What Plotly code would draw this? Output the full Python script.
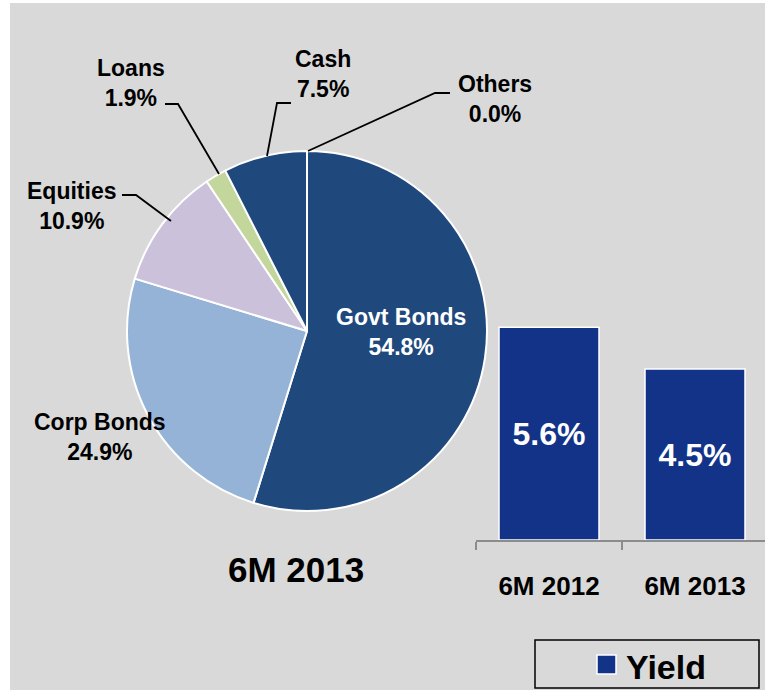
import plotly.graph_objects as go

# Portfolio mix (6M 2013), clockwise from 12 o'clock
asset_labels = ["Govt Bonds", "Corp Bonds", "Equities", "Loans", "Cash", "Others"]
asset_shares = [54.8, 24.9, 10.9, 1.9, 7.5, 0.0]
asset_colors = ["#1f497d", "#95b3d7", "#ccc1da", "#c3d69b", "#1f497d", "#1f497d"]

# Yield by period
periods = ["6M 2012", "6M 2013"]
yields = [5.6, 4.5]

pie_title = "6M 2013"
legend_name = "Yield"

W, H = 765, 690
FONT = "Liberation Sans, Arial, sans-serif"
BAR_BLUE = "#133388"
BG = "#d9d9d9"


def px(x):
    return x / W


def py(y):
    return 1 - y / H


fig = go.Figure()

# pie of asset allocation
cx, cy, r = 307, 331, 180
fig.add_trace(go.Pie(
    labels=asset_labels,
    values=asset_shares,
    sort=False,
    direction="clockwise",
    rotation=0,
    marker=dict(colors=asset_colors, line=dict(color="white", width=2)),
    textinfo="none",
    showlegend=False,
    domain=dict(x=[px(cx - r), px(cx + r)], y=[py(cy + r), py(cy - r)]),
))

# yield bars
fig.add_trace(go.Bar(
    x=periods,
    y=yields,
    name=legend_name,
    width=0.685,
    marker=dict(color=BAR_BLUE, line=dict(color="white", width=1.5)),
    texttemplate="%{y:.1f}%",
    textposition="inside",
    insidetextanchor="middle",
    textangle=0,
    textfont=dict(family=FONT, size=32, color="white", weight="bold"),
    showlegend=False,
    xaxis="x", yaxis="y",
))

# slice labels: (centre x, centre y, text colour)
label_pos = {
    "Govt Bonds": (401, 332, "white"),
    "Corp Bonds": (100, 437, "black"),
    "Equities": (71, 206, "black"),
    "Loans": (131, 83, "black"),
    "Cash": (323, 74, "black"),
    "Others": (495, 99, "black"),
}
annotations = []
for lab, val in zip(asset_labels, asset_shares):
    x, y, col = label_pos[lab]
    annotations.append(dict(
        x=px(x), y=py(y), xref="paper", yref="paper",
        text=f"<b>{lab}<br>{val:.1f}%</b>", showarrow=False,
        xanchor="center", yanchor="middle", align="center",
        font=dict(family=FONT, size=23, color=col),
    ))

annotations.append(dict(
    x=px(296), y=py(569), xref="paper", yref="paper",
    text=f"<b>{pie_title}</b>", showarrow=False,
    xanchor="center", yanchor="middle",
    font=dict(family=FONT, size=35, color="black"),
))

# legend text
annotations.append(dict(
    x=px(624), y=py(667), xref="paper", yref="paper",
    text=f"<b>{legend_name}</b>", showarrow=False,
    xanchor="left", yanchor="middle",
    font=dict(family=FONT, size=34, color="black"),
))


def path(points):
    return "M " + " L ".join(f"{px(x)},{py(y)}" for x, y in points)


leader_lines = [
    [(165, 104), (178, 104), (219, 174)],   # Loans
    [(291, 103), (277, 103), (267, 156)],   # Cash
    [(450, 93), (435, 93), (308, 151)],     # Others
    [(122, 195), (136, 195), (171, 221)],   # Equities
]

shapes = [
    # grey panel
    dict(type="rect", xref="paper", yref="paper", x0=px(10), x1=1.01, y0=-0.01, y1=py(3),
         fillcolor=BG, line=dict(width=0), layer="below"),
    # legend box
    dict(type="rect", xref="paper", yref="paper", x0=px(535), x1=px(759), y0=py(688), y1=py(640),
         fillcolor="rgba(0,0,0,0)", line=dict(color="black", width=1.5)),
    # legend swatch
    dict(type="rect", xref="paper", yref="paper", x0=px(597), x1=px(616), y0=py(674), y1=py(655),
         fillcolor=BAR_BLUE, line=dict(color="white", width=1.5)),
]
for pts in leader_lines:
    shapes.append(dict(type="path", xref="paper", yref="paper", path=path(pts),
                       line=dict(color="black", width=1.8)))

base_y = 540
px_per_unit = 38.0
top_y = 152

fig.update_layout(
    width=W, height=H, autosize=False,
    margin=dict(l=0, r=0, t=0, b=0),
    paper_bgcolor="white",
    plot_bgcolor="rgba(0,0,0,0)",
    font=dict(family=FONT),
    showlegend=False,
    xaxis=dict(
        domain=[px(476), 1],
        range=[-0.5, 1.5 - 3 / 146],
        type="category",
        showline=True, linecolor="#8c8c8c", linewidth=1.5,
        ticks="outside", tickson="boundaries", ticklen=8, tickcolor="#8c8c8c", tickwidth=1.5,
        tickfont=dict(family=FONT, size=26, color="black", weight="bold"),
        ticklabelstandoff=22,
        showgrid=False, zeroline=False, fixedrange=True,
    ),
    yaxis=dict(
        domain=[py(base_y), py(top_y)],
        range=[0, (base_y - top_y) / px_per_unit],
        visible=False, showgrid=False, zeroline=False,
    ),
    annotations=annotations,
    shapes=shapes,
)

fig.write_html("out.html")
